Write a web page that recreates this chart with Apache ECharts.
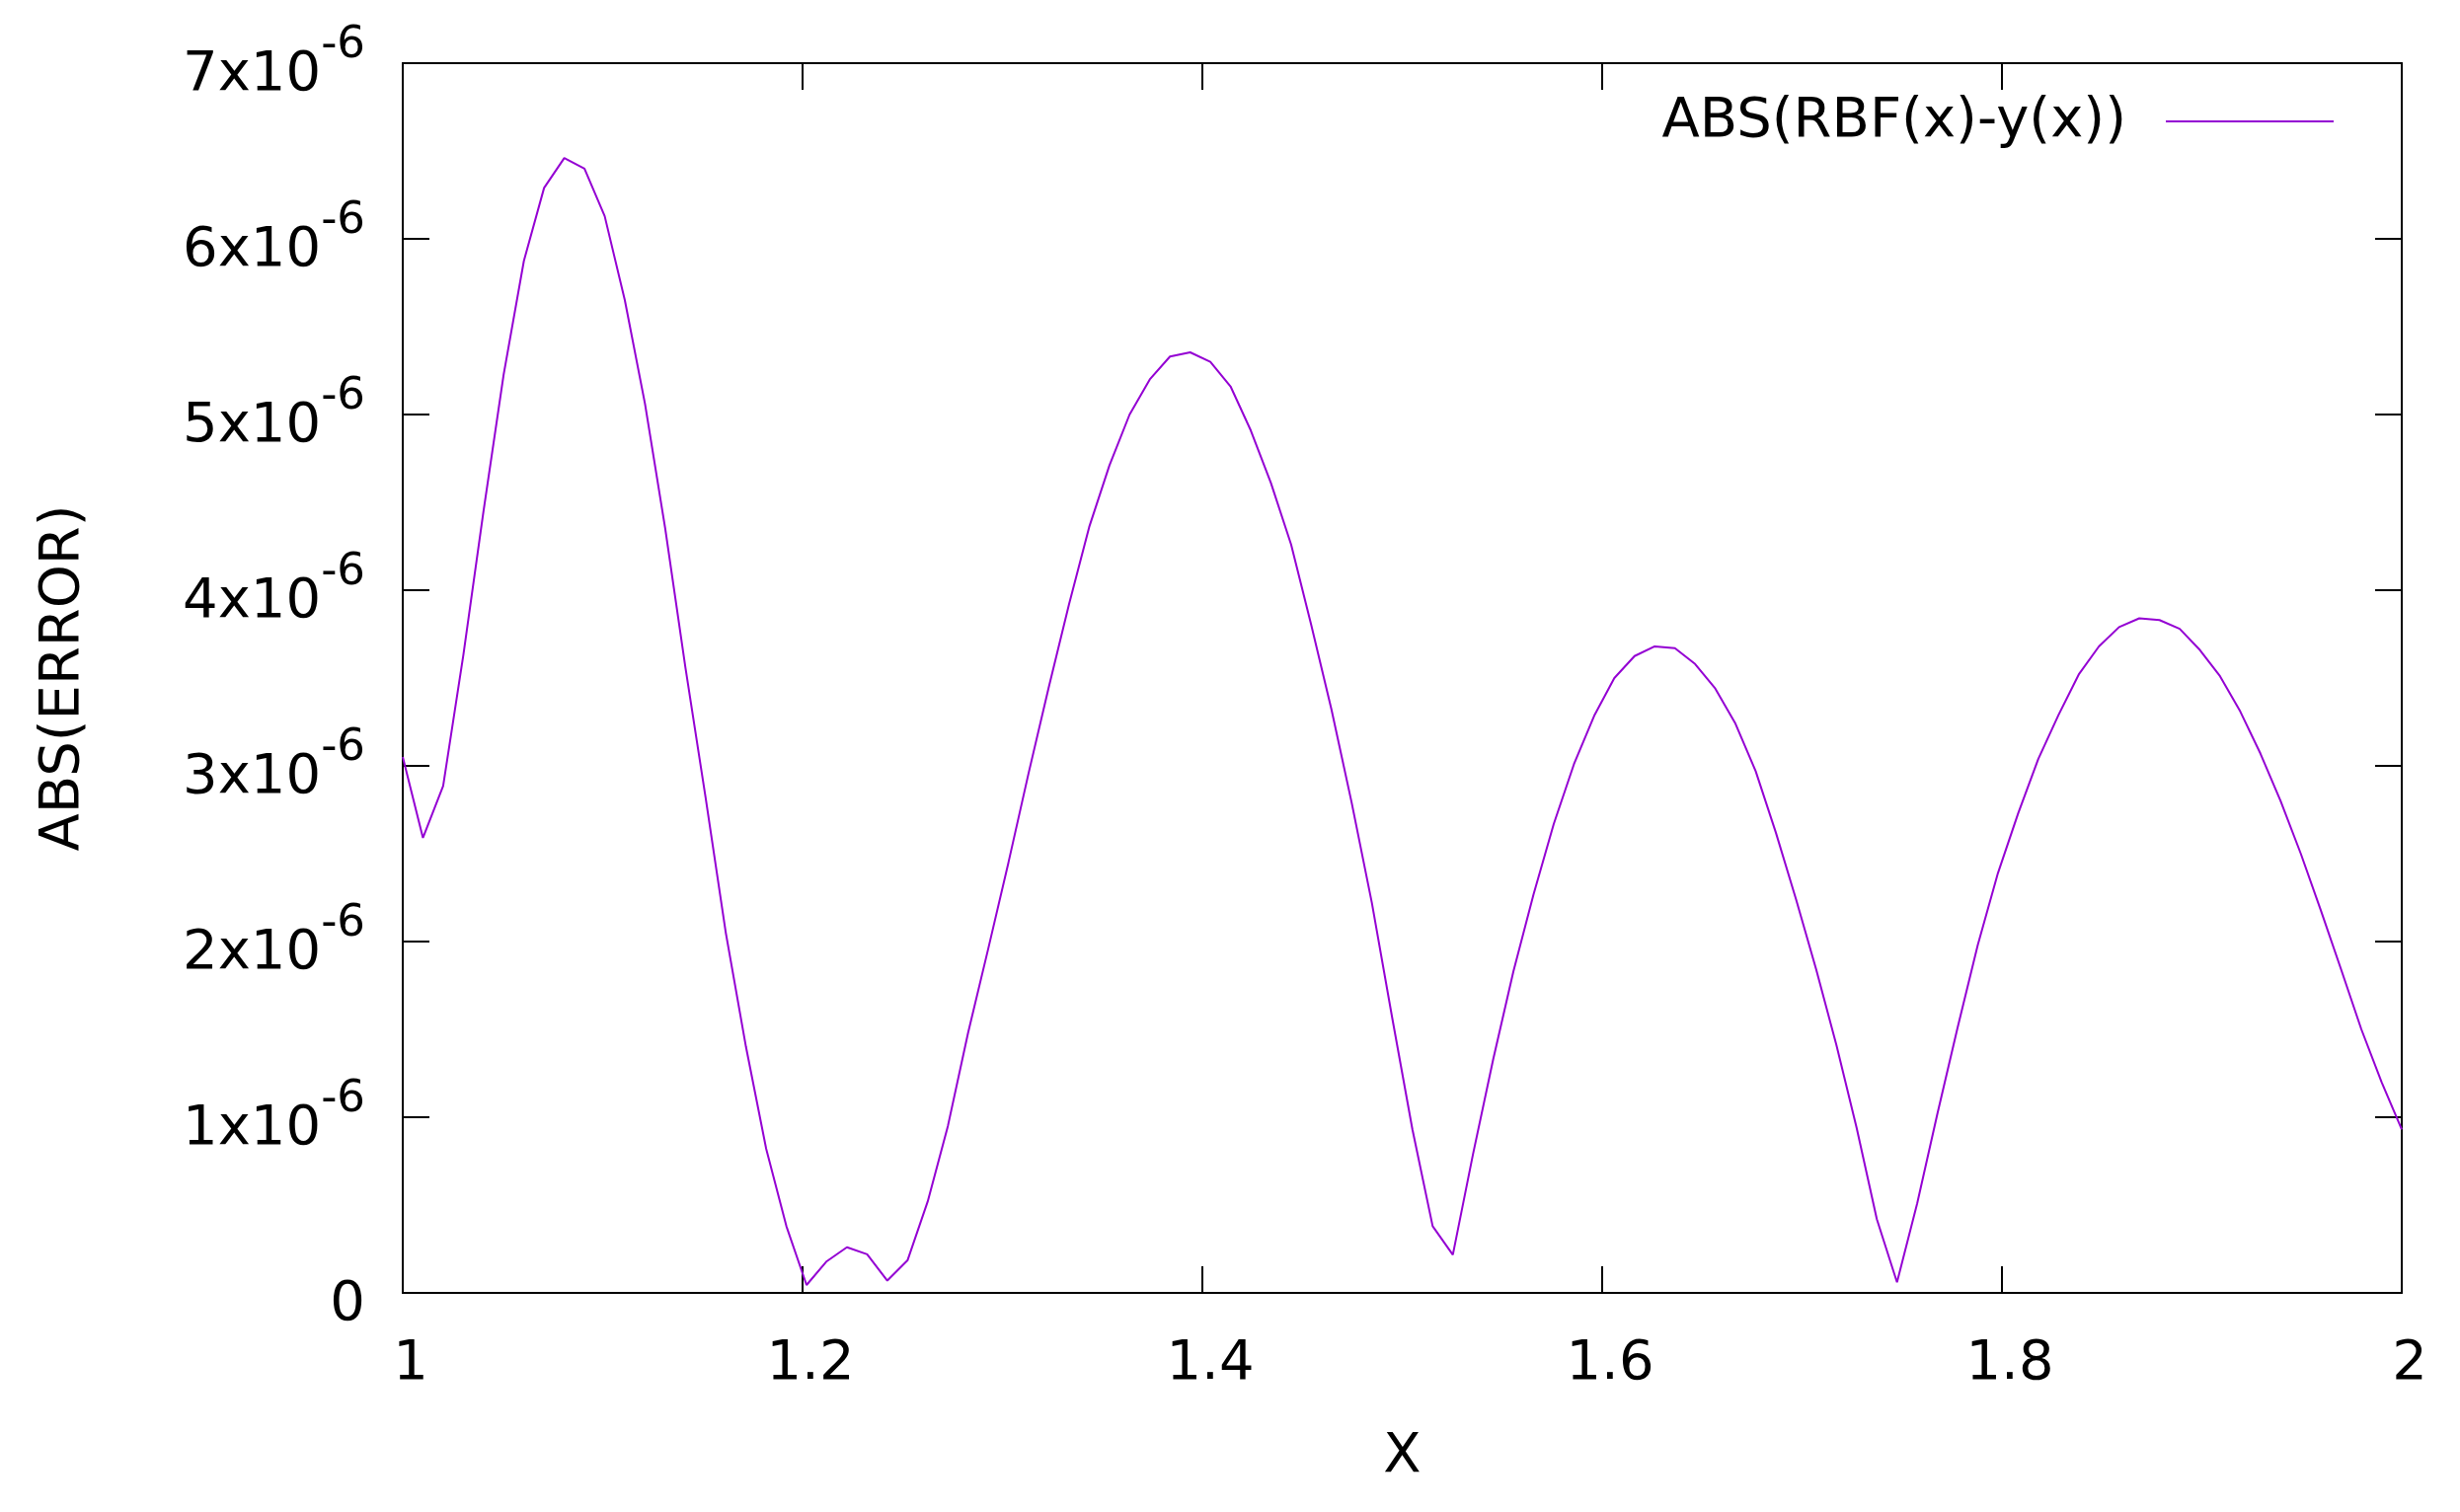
<!DOCTYPE html>
<html>
<head>
<meta charset="utf-8">
<title>ABS(ERROR)</title>
<script src="https://cdn.jsdelivr.net/npm/echarts@6/dist/echarts.min.js"></script>
<style>
  html, body { margin: 0; padding: 0; background: #fff; }
  #chart { width: 2492px; height: 1532px; }
</style>
</head>
<body>
<div id="chart"></div>
<script>
// sample points (x) and |RBF(x)-y(x)| in units of 1e-6
const xValues = [
  1.0000, 1.0101, 1.0202, 1.0303, 1.0404, 1.0505, 1.0606, 1.0707, 1.0808, 1.0909,
  1.1010, 1.1111, 1.1212, 1.1313, 1.1414, 1.1515, 1.1616, 1.1717, 1.1818, 1.1919,
  1.2020, 1.2121, 1.2222, 1.2323, 1.2424, 1.2525, 1.2626, 1.2727, 1.2828, 1.2929,
  1.3030, 1.3131, 1.3232, 1.3333, 1.3434, 1.3535, 1.3636, 1.3737, 1.3838, 1.3939,
  1.4040, 1.4141, 1.4242, 1.4343, 1.4444, 1.4545, 1.4646, 1.4747, 1.4848, 1.4949,
  1.5051, 1.5152, 1.5253, 1.5354, 1.5455, 1.5556, 1.5657, 1.5758, 1.5859, 1.5960,
  1.6061, 1.6162, 1.6263, 1.6364, 1.6465, 1.6566, 1.6667, 1.6768, 1.6869, 1.6970,
  1.7071, 1.7172, 1.7273, 1.7374, 1.7475, 1.7576, 1.7677, 1.7778, 1.7879, 1.7980,
  1.8081, 1.8182, 1.8283, 1.8384, 1.8485, 1.8586, 1.8687, 1.8788, 1.8889, 1.8990,
  1.9091, 1.9192, 1.9293, 1.9394, 1.9495, 1.9596, 1.9697, 1.9798, 1.9899, 2.0000
];
const absError = [
  3.05, 2.59, 2.885, 3.63, 4.45, 5.23, 5.875, 6.29, 6.46, 6.40,
  6.13, 5.65, 5.06, 4.35, 3.56, 2.82, 2.05, 1.40, 0.82, 0.38,
  0.045, 0.18, 0.26, 0.22, 0.07, 0.185, 0.52, 0.95, 1.48, 1.96,
  2.45, 2.96, 3.45, 3.92, 4.36, 4.71, 5.00, 5.20, 5.33, 5.354,
  5.30, 5.16, 4.91, 4.61, 4.26, 3.80, 3.32, 2.79, 2.22, 1.57,
  0.93, 0.38, 0.217, 0.79, 1.33, 1.83, 2.27, 2.67, 3.01, 3.285,
  3.50, 3.625, 3.68, 3.67, 3.58, 3.44, 3.24, 2.97, 2.62, 2.24,
  1.84, 1.41, 0.94, 0.42, 0.06, 0.51, 1.02, 1.51, 1.98, 2.39,
  2.73, 3.04, 3.29, 3.52, 3.68, 3.79, 3.84, 3.83, 3.78, 3.66,
  3.51, 3.31, 3.07, 2.80, 2.50, 2.175, 1.84, 1.50, 1.20, 0.93
];
const xTicks = [1, 1.2, 1.4, 1.6, 1.8, 2];
const yTicks = [0, 1, 2, 3, 4, 5, 6, 7];

const FONT = 'DejaVu Sans';
const BLACK = '#000';

const chart = echarts.init(document.getElementById('chart'));

const frame = {
    axisLine: { show: true, onZero: false, lineStyle: { color: BLACK, width: 2 } },
    axisTick: { show: true, inside: true, length: 27, lineStyle: { color: BLACK, width: 2 } },
    splitLine: { show: false }
};

const option = {
    animation: false,
    backgroundColor: '#fff',
    textStyle: { fontFamily: FONT },
    grid: { left: 408, right: 59, top: 64, bottom: 222, containLabel: false, outerBoundsMode: 'none' },
    legend: {
        right: 123,
        top: 90,
        align: 'right',
        icon: 'rect',
        itemWidth: 170,
        itemHeight: 2,
        textStyle: { fontFamily: FONT, fontSize: 56, color: BLACK, padding: [10, 35, 0, 0] },
        data: ['ABS(RBF(x)-y(x))']
    },
    xAxis: [{
        type: 'value',
        position: 'bottom',
        min: xTicks[0],
        max: xTicks[xTicks.length - 1],
        interval: 0.2,
        name: 'X',
        nameLocation: 'middle',
        nameGap: 138,
        nameTextStyle: { fontFamily: FONT, fontSize: 56, color: BLACK },
        axisLabel: {
            margin: 44, fontFamily: FONT, fontSize: 56, color: BLACK,
            padding: [0, 0, 0, 16],
            formatter: v => String(parseFloat(v.toFixed(1)))
        },
        ...frame
    }, {
        type: 'value',
        position: 'top',
        min: xTicks[0],
        max: xTicks[xTicks.length - 1],
        interval: 0.2,
        axisLabel: { show: false },
        ...frame
    }],
    yAxis: [{
        type: 'value',
        position: 'left',
        min: yTicks[0],
        max: yTicks[yTicks.length - 1],
        interval: 1,
        name: 'ABS(ERROR)',
        nameLocation: 'middle',
        nameRotate: 90,
        nameGap: 316,
        nameTextStyle: { fontFamily: FONT, fontSize: 56, color: BLACK },
        axisLabel: {
            margin: 38, fontFamily: FONT, fontSize: 56, color: BLACK,
            formatter: v => v === 0 ? '{b|0}' : '{b|' + v + 'x10}{s|-6}',
            rich: {
                b: { fontFamily: FONT, fontSize: 56, color: BLACK, lineHeight: 80, verticalAlign: 'bottom' },
                s: { fontFamily: FONT, fontSize: 45, color: BLACK, lineHeight: 45, verticalAlign: 'top' }
            }
        },
        ...frame
    }, {
        type: 'value',
        position: 'right',
        min: yTicks[0],
        max: yTicks[yTicks.length - 1],
        interval: 1,
        axisLabel: { show: false },
        ...frame
    }],
    series: [{
        name: 'ABS(RBF(x)-y(x))',
        type: 'line',
        xAxisIndex: 0,
        yAxisIndex: 0,
        showSymbol: false,
        symbol: 'none',
        data: xValues.map((x, i) => [x, absError[i]]),
        itemStyle: { color: '#9400D3' },
        lineStyle: { color: '#9400D3', width: 2 }
    }]
};

chart.setOption(option);

window.addEventListener('resize', () => {
    chart.resize();
});
</script>
</body>
</html>
